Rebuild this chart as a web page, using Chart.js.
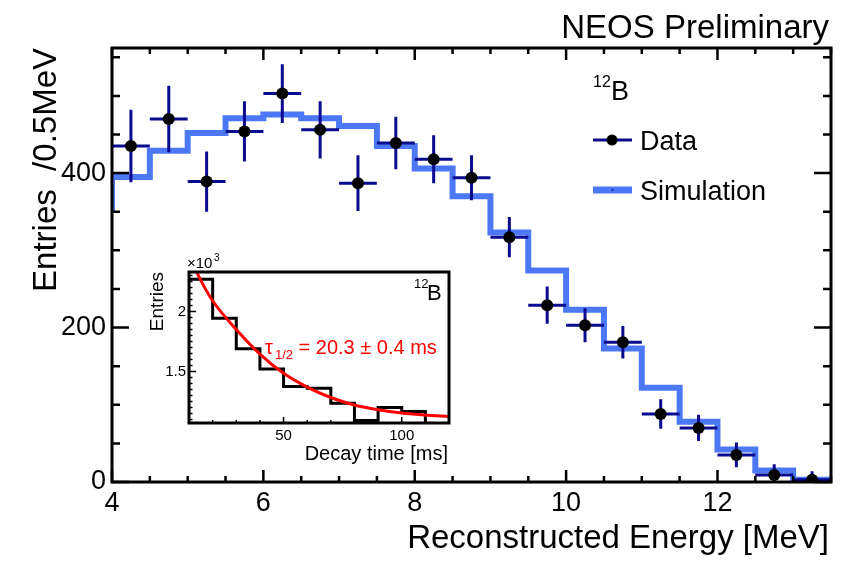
<!DOCTYPE html>
<html>
<head>
<meta charset="utf-8">
<title>NEOS 12B spectrum</title>
<script src="https://cdn.jsdelivr.net/npm/chart.js"></script>
<style>
  body { margin: 0; background: #fff; }
  .wrap { position: relative; width: 859px; height: 562px; }
  .wrap canvas { position: absolute; left: 0; top: 0; }
</style>
</head>
<body>
<div class="wrap">
  <canvas id="myChart" width="859" height="562"></canvas>
  <canvas id="myChart2" width="859" height="562"></canvas>
</div>
<script>

// data start

// main plot: 12B energy spectrum, 0.5 MeV bins
const energy = [4.25, 4.75, 5.25, 5.75, 6.25, 6.75, 7.25, 7.75, 8.25, 8.75, 9.25, 9.75, 10.25, 10.75, 11.25, 11.75, 12.25, 12.75, 13.25];
const dataVals = [435, 470, 389, 454, 503, 456, 387, 439, 418, 394, 317, 229, 203, 181, 88, 70, 35, 9, 3];
const dataErr = [47, 43, 39, 39, 38, 37, 36, 34, 31, 29, 26, 24, 22, 21, 19, 17, 16, 14, 11];
const simEdges = [3.5, 4, 4.5, 5, 5.5, 6, 6.5, 7, 7.5, 8, 8.5, 9, 9.5, 10, 10.5, 11, 11.5, 12, 12.5, 13, 13.5];
const simVals = [354, 395, 429, 452, 471, 476, 471, 461, 435, 406, 370, 323, 274, 223, 173, 122, 78, 42, 15, 3];
const xTicks = [4, 6, 8, 10, 12];
const yTicks = [0, 200, 400];

// inset: decay time (x10^3 entries)
const decayEdges = [10, 20, 30, 40, 50, 60, 70, 80, 90, 100, 110];
const decayVals = [2.27, 1.945, 1.69, 1.52, 1.375, 1.36, 1.235, 1.09, 1.2, 1.167];
const fitTime = [10, 15, 20, 30, 40, 50, 60, 70, 80, 90, 100, 110, 120];
const fitVals = [2.47, 2.26, 2.09, 1.85, 1.645, 1.485, 1.37, 1.283, 1.22, 1.18, 1.153, 1.137, 1.125];
const insetXTicks = [50, 100];
const insetYTicks = [1.5, 2];

// data end

const FONT = "'Liberation Sans', Arial, Helvetica, sans-serif";
const NAVY = '#0b0b8f';
const SIMBLUE = '#4c78f6';
const binHalf = 0.25;
const insetYMin = 1.07;

Chart.defaults.font.family = FONT;
Chart.defaults.color = '#000';

function font(size) {
  return size + 'px ' + FONT;
}


// script for main chart start

const simPoints = [];
simVals.forEach(function (v, i) {
  simPoints.push({ x: simEdges[i], y: v });
  simPoints.push({ x: simEdges[i + 1], y: v });
});

const dataPoints = energy.map(function (e, i) {
  return { x: e, y: dataVals[i] };
});

const mainDecor = {
  id: 'mainDecor',
  afterDatasetDraw(chart, args) {
    // error bars go on top of the simulation, under the markers
    if (args.index !== 0) return;
    const c = chart.ctx;
    const xs = chart.scales.x;
    const ys = chart.scales.y;
    const a = chart.chartArea;
    c.save();
    c.beginPath();
    c.rect(a.left, a.top, a.right - a.left, a.bottom - a.top);
    c.clip();
    c.strokeStyle = NAVY;
    c.lineWidth = 3;
    c.lineCap = 'butt';
    energy.forEach(function (e, i) {
      const px = xs.getPixelForValue(e);
      const py = ys.getPixelForValue(dataVals[i]);
      c.beginPath();
      c.moveTo(xs.getPixelForValue(e - binHalf), py);
      c.lineTo(xs.getPixelForValue(e + binHalf), py);
      c.moveTo(px, ys.getPixelForValue(dataVals[i] - dataErr[i]));
      c.lineTo(px, ys.getPixelForValue(dataVals[i] + dataErr[i]));
      c.stroke();
    });
    c.restore();
  },
  afterDraw(chart) {
    const c = chart.ctx;
    const xs = chart.scales.x;
    const ys = chart.scales.y;
    const a = chart.chartArea;
    c.save();

    // frame
    c.strokeStyle = '#000';
    c.lineWidth = 3;
    c.strokeRect(a.left, a.top, a.right - a.left, a.bottom - a.top);

    // inside ticks
    c.lineWidth = 2.5;
    c.beginPath();
    for (let v = 4; v <= 13.5 + 1e-9; v += 0.5) {
      const px = xs.getPixelForValue(v);
      const len = (v % 2 === 0) ? 12 : 6;
      c.moveTo(px, a.bottom);
      c.lineTo(px, a.bottom - len);
      c.moveTo(px, a.top);
      c.lineTo(px, a.top + len);
    }
    for (let v = 0; v <= 560; v += 50) {
      const py = ys.getPixelForValue(v);
      const len = (v % 200 === 0) ? 17 : 8;
      c.moveTo(a.left, py);
      c.lineTo(a.left + len, py);
      c.moveTo(a.right, py);
      c.lineTo(a.right - len, py);
    }
    c.stroke();

    // texts
    c.fillStyle = '#000';
    c.textBaseline = 'alphabetic';
    c.font = font(33);
    c.textAlign = 'right';
    c.fillText('NEOS Preliminary', 829, 38);
    c.fillText('Reconstructed Energy [MeV]', 829, 548);

    c.save();
    c.translate(56, 48);
    c.rotate(-Math.PI / 2);
    c.textAlign = 'right';
    c.fillText('Entries  /0.5MeV', 0, 0);
    c.restore();

    // legend
    c.textAlign = 'left';
    c.font = font(16);
    c.fillText('12', 593, 87);
    c.font = font(27);
    c.fillText('B', 611, 100);

    c.strokeStyle = NAVY;
    c.lineWidth = 3;
    c.beginPath();
    c.moveTo(593, 140);
    c.lineTo(632, 140);
    c.stroke();
    c.fillStyle = '#000';
    c.beginPath();
    c.arc(612, 140, 5.5, 0, Math.PI * 2);
    c.fill();
    c.fillText('Data', 640, 150);

    c.strokeStyle = SIMBLUE;
    c.lineWidth = 7;
    c.beginPath();
    c.moveTo(593, 190);
    c.lineTo(632, 190);
    c.stroke();
    c.fillStyle = '#1e3fd8';
    c.fillRect(611, 189, 3, 2);
    c.fillStyle = '#000';
    c.fillText('Simulation', 640, 200);

    c.restore();
  }
};

const ctx = document.getElementById('myChart');

new Chart(ctx, {
  type: 'scatter',
  data: {
    datasets: [{
      type: 'line',
      label: 'Simulation',
      data: simPoints,
      borderColor: SIMBLUE,
      borderWidth: 6,
      borderJoinStyle: 'miter',
      borderCapStyle: 'butt',
      pointRadius: 0,
      fill: false,
      tension: 0,
      order: 2
    }, {
      label: 'Data',
      data: dataPoints,
      pointRadius: 6,
      pointBackgroundColor: '#000',
      pointBorderWidth: 0,
      order: 1
    }]
  },
  options: {
    responsive: false,
    animation: false,
    layout: { padding: { left: 0, right: 28, top: 48, bottom: 0 } },
    plugins: {
      legend: { display: false },
      tooltip: { enabled: false }
    },
    scales: {
      x: {
        type: 'linear',
        min: 4,
        max: 13.5,
        grid: { display: false, drawTicks: false },
        border: { display: false },
        afterBuildTicks: function (scale) {
          scale.ticks = xTicks.map(function (v) { return { value: v }; });
        },
        afterFit: function (scale) { scale.height = 80; },
        ticks: {
          font: { size: 27 },
          color: '#000',
          padding: 5,
          maxRotation: 0,
          callback: function (v) { return String(v); }
        }
      },
      y: {
        min: 0,
        max: 562,
        grid: { display: false, drawTicks: false },
        border: { display: false },
        afterBuildTicks: function (scale) {
          scale.ticks = yTicks.map(function (v) { return { value: v }; });
        },
        afterFit: function (scale) { scale.width = 112; },
        ticks: {
          font: { size: 27 },
          color: '#000',
          padding: 6,
          callback: function (v) { return String(v); }
        }
      }
    }
  },
  plugins: [mainDecor]
});

// script for main chart end


// script for inset chart start

const histPoints = [];
decayVals.forEach(function (v, i) {
  histPoints.push({ x: decayEdges[i], y: v });
  histPoints.push({ x: decayEdges[i + 1], y: v });
});
histPoints.push({ x: decayEdges[decayEdges.length - 1], y: insetYMin });

const fitPoints = fitTime.map(function (t, i) {
  return { x: t, y: fitVals[i] };
});

const insetDecor = {
  id: 'insetDecor',
  beforeDraw(chart) {
    // white box so the main plot does not show through
    const c = chart.ctx;
    const a = chart.chartArea;
    c.save();
    c.fillStyle = '#fff';
    c.fillRect(a.left, a.top, a.right - a.left, a.bottom - a.top);
    c.restore();
  },
  afterDraw(chart) {
    const c = chart.ctx;
    const xs = chart.scales.x;
    const ys = chart.scales.y;
    const a = chart.chartArea;
    c.save();

    c.strokeStyle = '#000';
    c.lineWidth = 3;
    c.strokeRect(a.left, a.top, a.right - a.left, a.bottom - a.top);

    c.lineWidth = 1.5;
    c.beginPath();
    for (let t = 20; t < 120; t += 10) {
      const px = xs.getPixelForValue(t);
      const len = (t % 50 === 0) ? 6 : 3;
      c.moveTo(px, a.bottom);
      c.lineTo(px, a.bottom - len);
    }
    for (let k = 22; k <= 46; k++) {
      const v = k * 0.05;
      const py = ys.getPixelForValue(v);
      const len = (k % 10 === 0) ? 7 : 3.5;
      c.moveTo(a.left, py);
      c.lineTo(a.left + len, py);
    }
    c.stroke();

    c.fillStyle = '#000';
    c.textBaseline = 'alphabetic';

    c.font = font(20);
    c.textAlign = 'right';
    c.fillText('Decay time [ms]', 448, 460);

    c.save();
    c.translate(163, 272);
    c.rotate(-Math.PI / 2);
    c.textAlign = 'right';
    c.font = font(19);
    c.fillText('Entries', 0, 0);
    c.restore();

    c.textAlign = 'left';
    c.font = font(15);
    c.fillText('\u00d710', 187, 268);
    c.font = font(10);
    c.fillText('3', 214, 261);

    c.font = font(13);
    c.fillText('12', 414, 288);
    c.font = font(22);
    c.fillText('B', 427, 300);

    c.fillStyle = '#ff0000';
    c.font = font(20);
    c.fillText('\u03c4', 265, 354);
    c.font = font(13);
    c.fillText('1/2', 275, 359);
    c.font = font(20);
    c.fillText(' = 20.3 \u00b1 0.4 ms', 293, 354);

    c.restore();
  }
};

const ctx2 = document.getElementById('myChart2');

new Chart(ctx2, {
  type: 'scatter',
  data: {
    datasets: [{
      type: 'line',
      label: 'Decay time',
      data: histPoints,
      borderColor: '#000',
      borderWidth: 3,
      borderJoinStyle: 'miter',
      pointRadius: 0,
      fill: false,
      tension: 0,
      order: 2
    }, {
      type: 'line',
      label: 'Fit',
      data: fitPoints,
      borderColor: '#ff0000',
      borderWidth: 3,
      pointRadius: 0,
      fill: false,
      cubicInterpolationMode: 'monotone',
      order: 1
    }]
  },
  options: {
    responsive: false,
    animation: false,
    layout: { padding: { left: 150, right: 410, top: 272, bottom: 100 } },
    plugins: {
      legend: { display: false },
      tooltip: { enabled: false }
    },
    scales: {
      x: {
        type: 'linear',
        min: 10,
        max: 120,
        grid: { display: false, drawTicks: false },
        border: { display: false },
        afterBuildTicks: function (scale) {
          scale.ticks = insetXTicks.map(function (v) { return { value: v }; });
        },
        afterFit: function (scale) { scale.height = 39; },
        ticks: {
          font: { size: 15 },
          color: '#000',
          padding: 4,
          maxRotation: 0,
          callback: function (v) { return String(v); }
        }
      },
      y: {
        min: insetYMin,
        max: 2.33,
        grid: { display: false, drawTicks: false },
        border: { display: false },
        afterBuildTicks: function (scale) {
          scale.ticks = insetYTicks.map(function (v) { return { value: v }; });
        },
        afterFit: function (scale) { scale.width = 39; },
        ticks: {
          font: { size: 15 },
          color: '#000',
          padding: 3,
          callback: function (v) { return String(v); }
        }
      }
    }
  },
  plugins: [insetDecor]
});

// script for inset chart end

</script>
</body>
</html>
